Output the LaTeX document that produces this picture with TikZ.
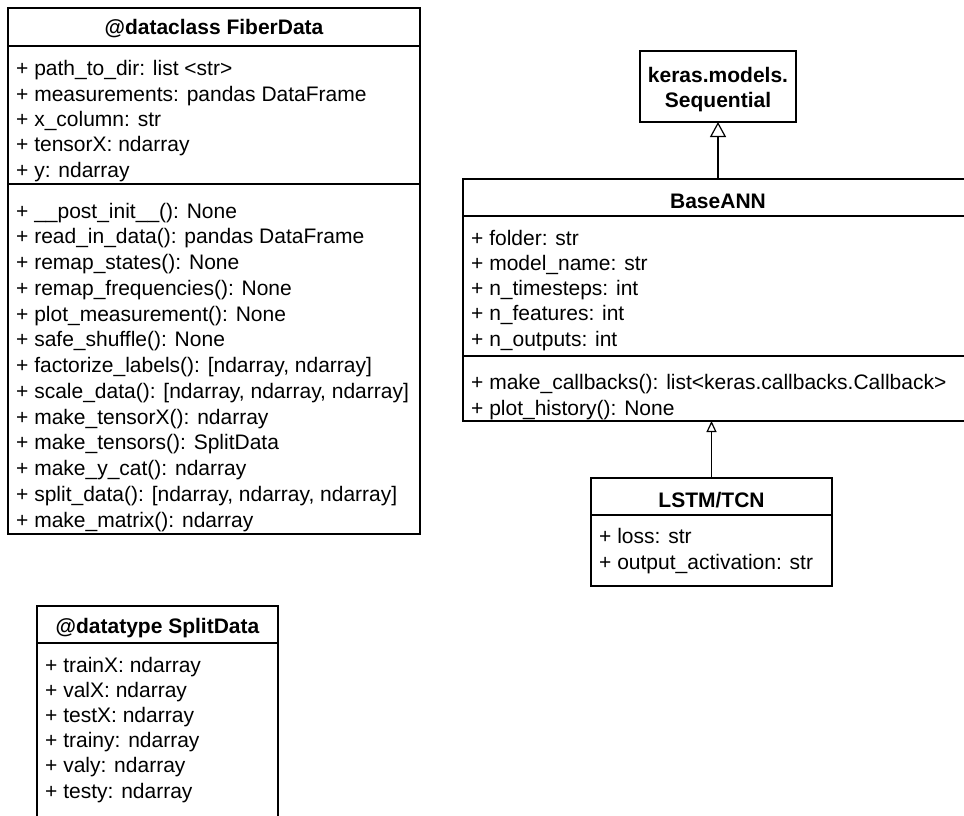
\documentclass[tikz,border=0pt]{standalone}
\usepackage{fontspec}
\setmainfont{Liberation Sans}
\usetikzlibrary{arrows.meta}
\begin{document}
\begin{tikzpicture}[x=1pt,y=1pt,
  font=\fontsize{21}{25}\selectfont,
  box/.style={draw, line width=1.2pt, anchor=north west, inner sep=0pt, outer sep=0pt},
  sep/.style={line width=1.2pt},
  row/.style={anchor=base west, inner sep=0pt},
  ttl/.style={anchor=base, inner sep=0pt, font=\fontsize{21}{25}\selectfont\bfseries},
  inh/.style={-{Triangle[open,length=15pt,width=16pt]}, line width=1.2pt},
  inhs/.style={-{Triangle[open,length=11pt,width=10pt]}, line width=1.2pt}]
\useasboundingbox (0,0) rectangle (964,-816);
\clip (0,0) rectangle (964,-816);
\fill[white] (0,0) rectangle (964,-816);

% ---------- FiberData ----------
\node[box, minimum width=412pt, minimum height=526pt] (fd) at (8,-8) {};
\draw[sep] (fd.north west |- 0,-46) -- (fd.north east |- 0,-46);
\draw[sep] (fd.north west |- 0,-184) -- (fd.north east |- 0,-184);
\node[ttl] (fdt) at (214,-35) {@dataclass FiberData};
\foreach \t [count=\i from 0] in {
  {+ path\_to\_dir: list <str>},
  {+ measurements: pandas DataFrame},
  {+ x\_column: str},
  {+ tensorX: ndarray},
  {+ y: ndarray}}
  \node[row] (fda\i) at (16,-76-25.3*\i) {\t};
\foreach \t [count=\i from 0] in {
  {+ \_\_post\_init\_\_(): None},
  {+ read\_in\_data(): pandas DataFrame},
  {+ remap\_states(): None},
  {+ remap\_frequencies(): None},
  {+ plot\_measurement(): None},
  {+ safe\_shuffle(): None},
  {+ factorize\_labels(): [ndarray, ndarray]},
  {+ scale\_data(): [ndarray, ndarray, ndarray]},
  {+ make\_tensorX(): ndarray},
  {+ make\_tensors(): SplitData},
  {+ make\_y\_cat(): ndarray},
  {+ split\_data(): [ndarray, ndarray, ndarray]},
  {+ make\_matrix(): ndarray}}
  \node[row] (fdm\i) at (16,-218-25.75*\i) {\t};

% ---------- SplitData ----------
\node[box, minimum width=241pt, minimum height=240pt] (sd) at (37,-606) {};
\draw[sep] (sd.north west |- 0,-643) -- (sd.north east |- 0,-643);
\node[ttl] (sdt) at (157.5,-633) {@datatype SplitData};
\foreach \t [count=\i from 0] in {
  {+ trainX: ndarray},
  {+ valX: ndarray},
  {+ testX: ndarray},
  {+ trainy: ndarray},
  {+ valy: ndarray},
  {+ testy: ndarray}}
  \node[row] (sda\i) at (45,-672-25.2*\i) {\t};

% ---------- keras.models.Sequential ----------
\node[box, minimum width=156pt, minimum height=71pt] (seq) at (640,-51) {};
\node[ttl] (seq1) at (718,-82) {keras.models.};
\node[ttl] (seq2) at (718,-107) {Sequential};

% ---------- BaseANN ----------
\node[box, minimum width=510pt, minimum height=242pt] (base) at (463,-179) {};
\draw[sep] (base.north west |- 0,-216) -- (base.north east |- 0,-216);
\draw[sep] (base.north west |- 0,-356) -- (base.north east |- 0,-356);
\node[ttl] (baset) at (718,-208) {BaseANN};
\foreach \t [count=\i from 0] in {
  {+ folder: str},
  {+ model\_name: str},
  {+ n\_timesteps: int},
  {+ n\_features: int},
  {+ n\_outputs: int}}
  \node[row] (basea\i) at (471,-245-25.3*\i) {\t};
\node[row] (basem0) at (471,-389) {+ make\_callbacks(): list<keras.callbacks.Callback>};
\node[row] (basem1) at (471,-415) {+ plot\_history(): None};

% ---------- LSTM/TCN ----------
\node[box, minimum width=241pt, minimum height=108pt] (lstm) at (591,-478) {};
\draw[sep] (lstm.north west |- 0,-515) -- (lstm.north east |- 0,-515);
\node[ttl] (lstmt) at (711.5,-507) {LSTM/TCN};
\node[row] (lstma0) at (599,-543) {+ loss: str};
\node[row] (lstma1) at (599,-569) {+ output\_activation: str};

% ---------- inheritance ----------
\draw[inh] (base.north) -- (seq.south);
\draw[inhs] (lstm.north) -- (lstm.north |- base.south);
\end{tikzpicture}
\end{document}
